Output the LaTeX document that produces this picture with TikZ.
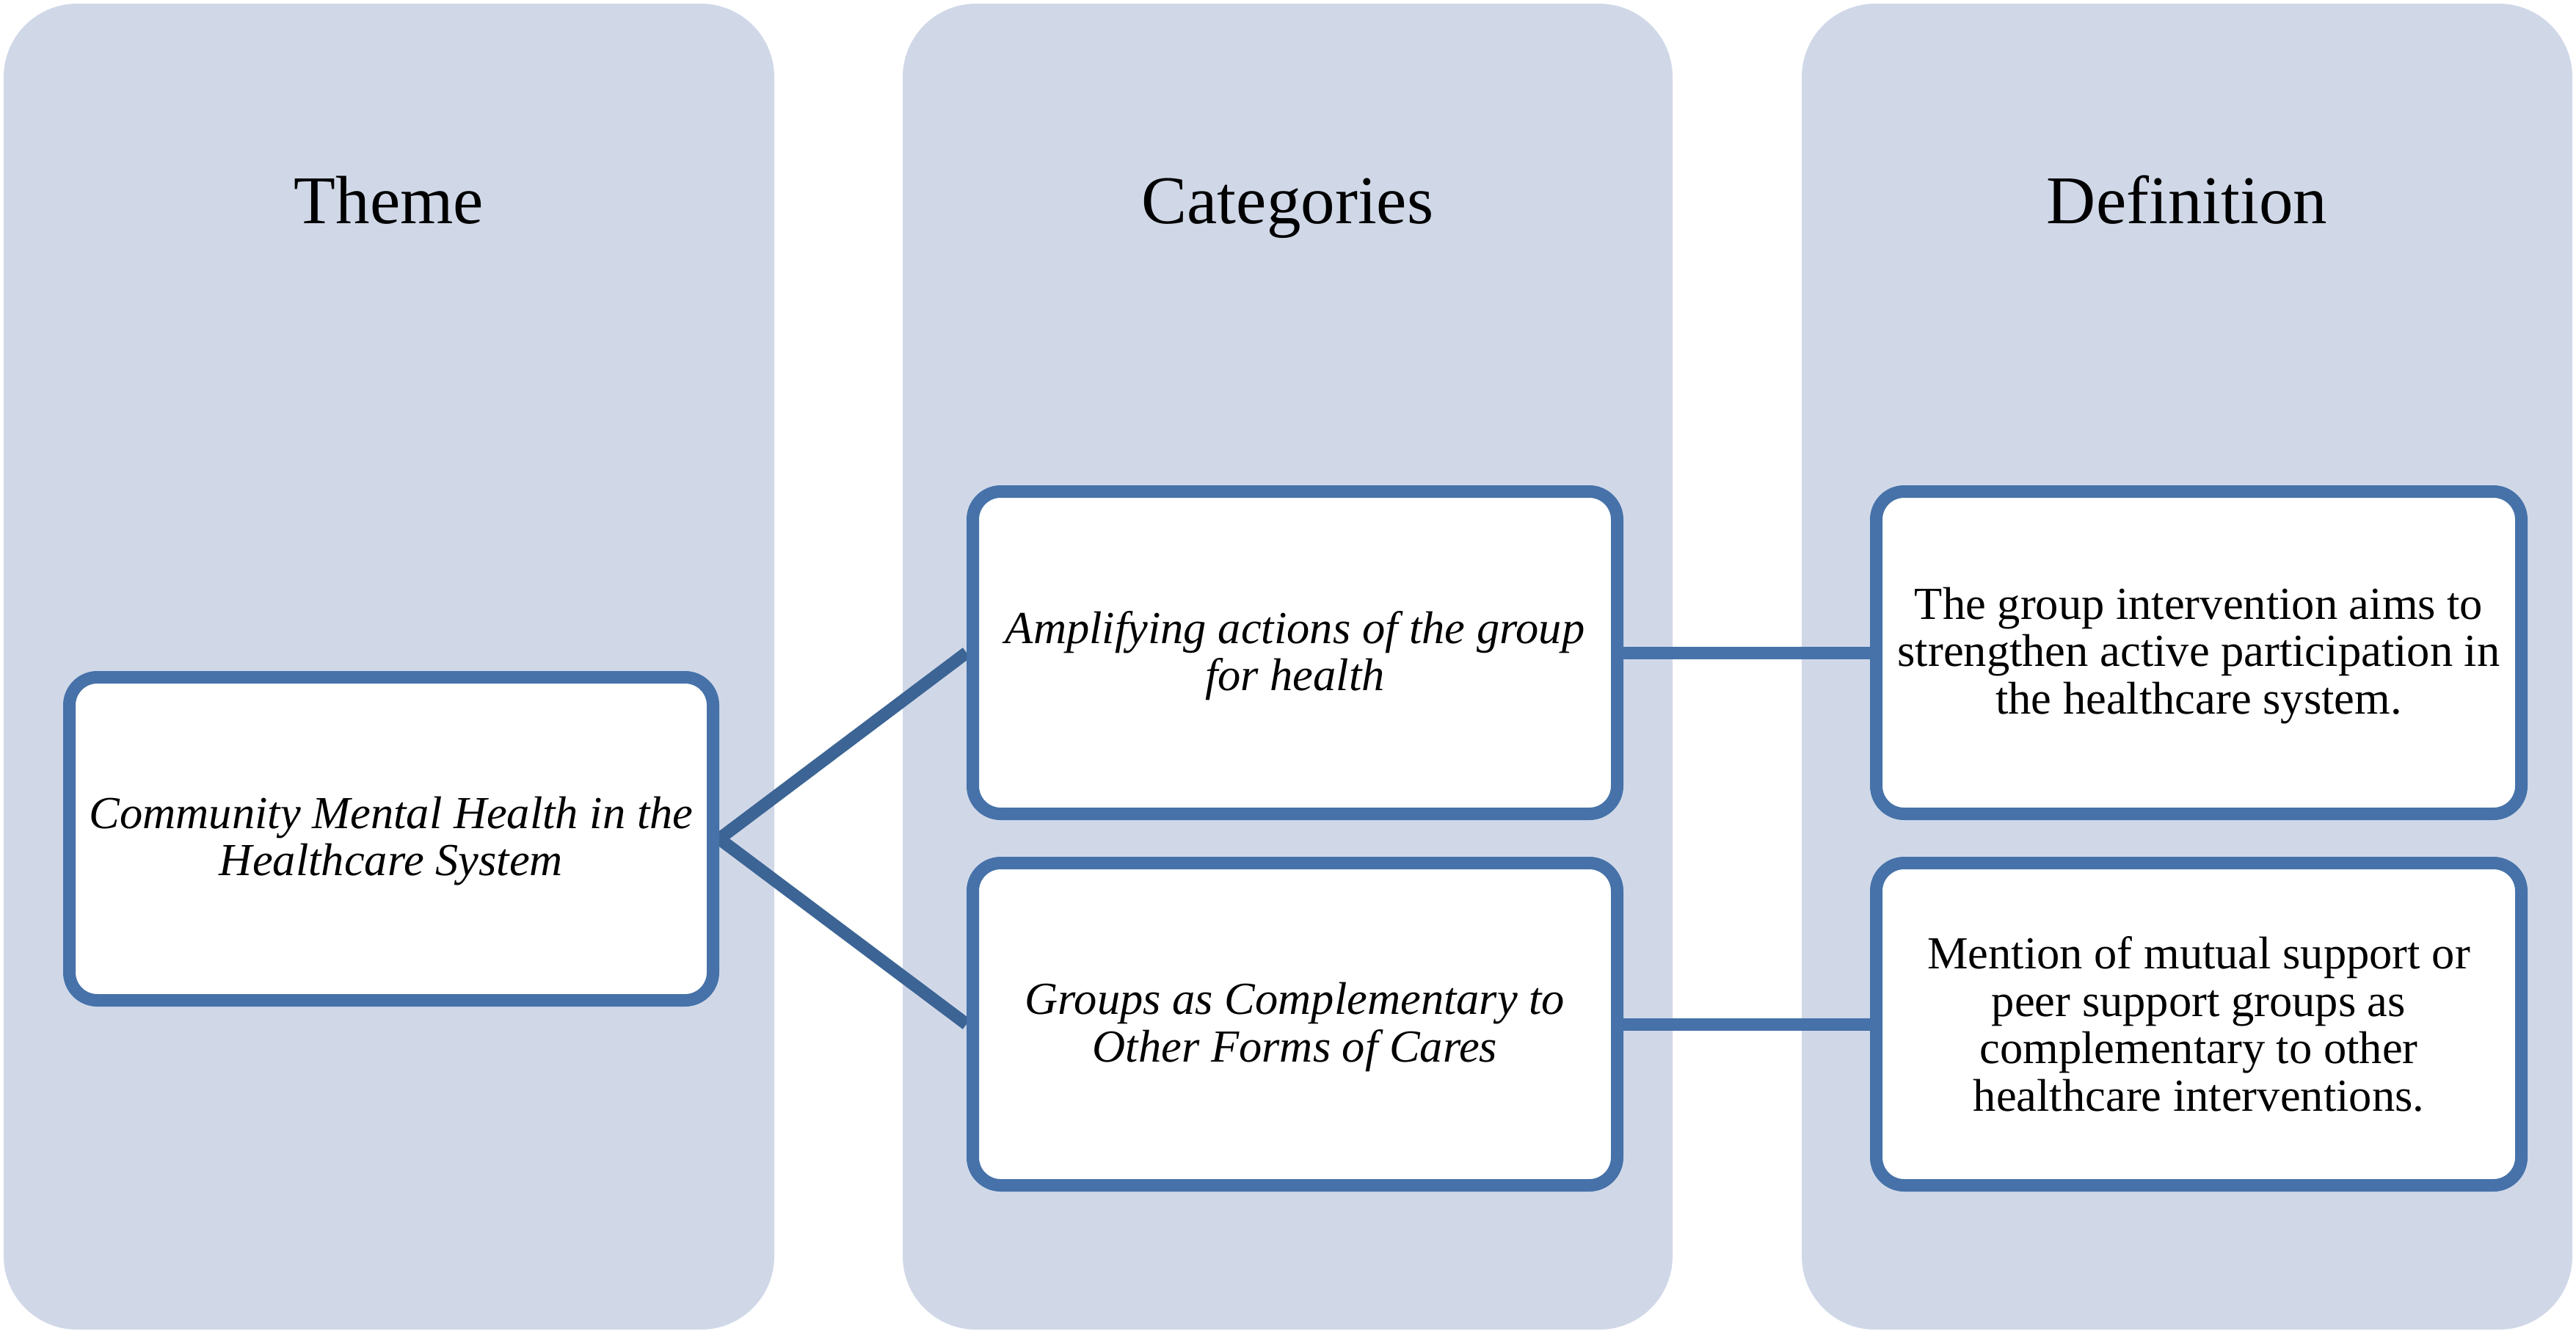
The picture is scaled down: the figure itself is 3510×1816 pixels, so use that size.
\documentclass[tikz,border=0pt]{standalone}
\usepackage{fontspec}
\setmainfont{Liberation Serif}
\pgfdeclarelayer{cols}
\pgfdeclarelayer{links}
\pgfsetlayers{cols,links,main}
\definecolor{colfill}{HTML}{D0D8E8}
\definecolor{boxline}{HTML}{4672A9}
\definecolor{diagline}{HTML}{3C6495}
\tikzset{
  column/.style={fill=colfill, rounded corners=100pt},
  title/.style={font=\fontsize{93}{110}\selectfont, anchor=base},
  itembox/.style={draw=boxline, fill=white, line width=17pt, rounded corners=38pt,
    minimum height=439pt, align=center, inner sep=0pt,
    font=\fontsize{62.5}{64.5}\selectfont},
  boxtext/.style={align=center, inner sep=0pt, font=\fontsize{62.5}{64.5}\selectfont},
  link/.style={line width=17pt},
}
\begin{document}
\begin{tikzpicture}[x=1pt,y=-1pt]
\useasboundingbox (0,0) rectangle (3510,1816);
\begin{pgfonlayer}{cols}
\fill[column] (5,5) rectangle (1055,1811);
\fill[column] (1230,5) rectangle (2279,1811);
\fill[column] (2455,5) rectangle (3505,1811);
\end{pgfonlayer}
\node[title] (t1) at (530,304) {Theme};
\node[title] (t2) at (1754.5,304) {Categories};
\node[title] (t3) at (2980,304) {Definition};

\node[itembox, minimum width=877pt, minimum height=440pt] (theme) at (533,1142.5) {};
\node[itembox, minimum width=878pt] (cat1) at (1764.5,889) {};
\node[itembox, minimum width=878pt] (cat2) at (1764.5,1395) {};
\node[itembox, minimum width=879pt] (def1) at (2996,889) {};
\node[itembox, minimum width=879pt] (def2) at (2996,1395) {};

\node[boxtext] (themetxt) at ([yshift=-3pt]theme.center)
  {\itshape Community Mental Health in the\\\itshape Healthcare System};
\node[boxtext] (cat1txt) at ([yshift=-4pt]cat1.center)
  {\itshape Amplifying actions of the group\\\itshape for health};
\node[boxtext] (cat2txt) at ([yshift=-4pt]cat2.center)
  {\itshape Groups as Complementary to\\\itshape Other Forms of Cares};
\node[boxtext] (def1txt) at ([yshift=-4pt]def1.center)
  {The group intervention aims to\\strengthen active participation in\\the healthcare system.};
\node[boxtext] (def2txt) at ([yshift=0pt]def2.center)
  {Mention of mutual support or\\peer support groups as\\complementary to other\\healthcare interventions.};

\begin{pgfonlayer}{links}
\draw[link, diagline] (theme.east) -- (cat1.west);
\draw[link, diagline] (theme.east) -- (cat2.west);
\draw[link, boxline] (cat1.east) -- (def1.west);
\draw[link, boxline] (cat2.east) -- (def2.west);
\end{pgfonlayer}
\end{tikzpicture}
\end{document}
